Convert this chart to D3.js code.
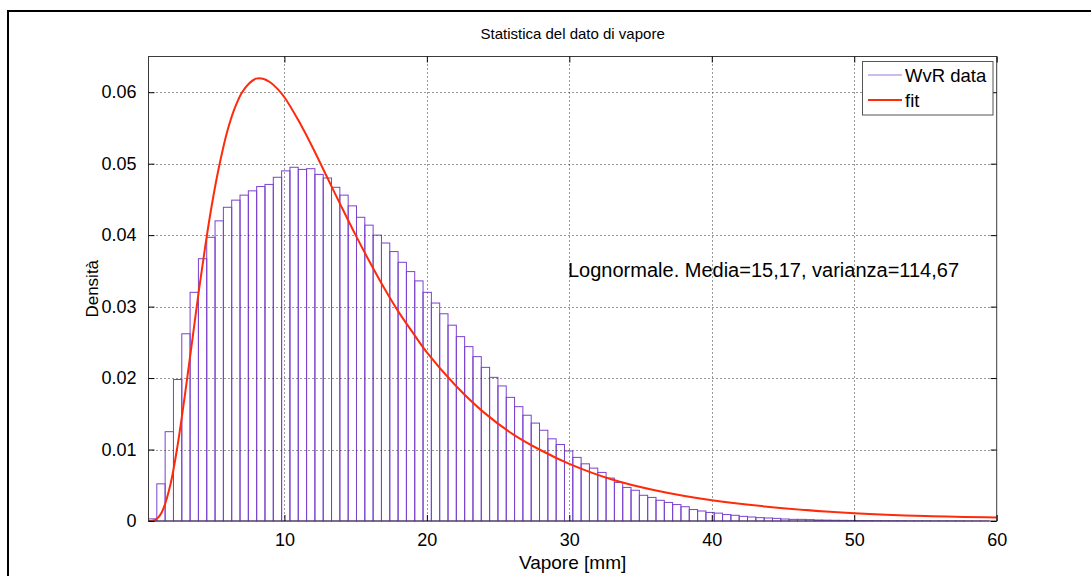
<!DOCTYPE html>
<html>
<head>
<meta charset="utf-8">
<script src="https://cdn.jsdelivr.net/npm/d3@7/dist/d3.min.js"></script>
<style>
  html, body { margin: 0; padding: 0; background: #fff; }
  svg text { font-family: "Liberation Sans", Arial, Helvetica, sans-serif; fill: #000; }
</style>
</head>
<body>
<svg id="chart" width="1091" height="576"></svg>
<script>
// Histogram of water-vapour data (density per bin), bins of equal width
const binStart = 0.46;
const binWidth = 0.584;
const densities = [
  0.0003, 0.0052, 0.0125, 0.0198, 0.0262, 0.0320, 0.0367, 0.0397, 0.0420, 0.0439,
  0.0449, 0.0456, 0.0462, 0.0468, 0.0471, 0.0481, 0.0490, 0.0495, 0.0492, 0.0493,
  0.0485, 0.0480, 0.0467, 0.0456, 0.0441, 0.0425, 0.0414, 0.0400, 0.0389, 0.0377,
  0.0362, 0.0349, 0.0336, 0.0320, 0.0305, 0.0290, 0.0274, 0.0258, 0.0244, 0.0230,
  0.0215, 0.0201, 0.0189, 0.0173, 0.0160, 0.0148, 0.0137, 0.0127, 0.0115, 0.0107,
  0.0098, 0.0089, 0.0080, 0.0074, 0.0068, 0.0060, 0.0054, 0.0047, 0.0043, 0.0036,
  0.0033, 0.0029, 0.0026, 0.0023, 0.0020, 0.0016, 0.0014, 0.0012, 0.0011, 0.0009,
  0.0008, 0.00065, 0.00056, 0.00047, 0.00042, 0.00037, 0.00028, 0.00023, 0.00023, 0.00019,
  0.00014, 0.00012, 0.00010, 0.00009, 0.00008, 0.00007, 0.00006, 0.00005, 0.00005, 0.00004,
  0.00004, 0.00003, 0.00003, 0.00003, 0.00002, 0.00002, 0.00002, 0.00002, 0.00001, 0.00001,
  0.00001
];

// Fitted lognormal curve, sampled points (x in mm, density)
const fitX = [0.46, 0.75, 1, 1.25, 1.5, 2, 2.5, 3, 3.5, 4, 4.5, 5, 5.5, 6, 6.5, 7, 7.5, 8, 8.5, 9, 9.5,
  10, 11, 12, 13, 14, 15, 16, 17, 18, 19, 20, 22, 24, 26, 28, 30, 33, 36, 40, 45, 50, 55, 60];
const fitY = [0.0000, 0.00005, 0.00025, 0.00075, 0.0017, 0.0051, 0.01055, 0.0174, 0.0248, 0.0323, 0.0392, 0.0453, 0.0504, 0.0546, 0.0577, 0.0599, 0.0612, 0.0619, 0.0619, 0.0614, 0.0605,
  0.0593, 0.0560, 0.0522, 0.0481, 0.0440, 0.0400, 0.0362, 0.0326, 0.0293, 0.0264, 0.0236, 0.0190, 0.0152, 0.0122, 0.0099, 0.0080, 0.0058, 0.0043, 0.0029, 0.0018, 0.0011, 0.0007, 0.0005];

const xTicks = [10, 20, 30, 40, 50, 60];
const yTicks = [0, 0.01, 0.02, 0.03, 0.04, 0.05, 0.06];
const yTickLabels = ["0", "0.01", "0.02", "0.03", "0.04", "0.05", "0.06"];

const titleText = "Statistica del dato di vapore";
const xLabelText = "Vapore [mm]";
const yLabelText = "Densità";
const noteText = "Lognormale. Media=15,17, varianza=114,67";
const legendNames = ["WvR data", "fit"];

const barColor = "#7a42cf";
const fitColor = "#ff2a0a";

const svg = d3.select("#chart");

// outer figure frame
svg.append("rect")
  .attr("x", 8).attr("y", 11).attr("width", 1100).attr("height", 600)
  .attr("fill", "none").attr("stroke", "#000").attr("stroke-width", 2);

const plot = { left: 148.5, right: 996.7, top: 56.5, bottom: 521 };

const x = d3.scaleLinear().domain([0.46, 60]).range([plot.left, plot.right]);
const y = d3.scaleLinear().domain([0, 0.065]).range([plot.bottom, plot.top]);

// plot background
svg.append("rect")
  .attr("x", plot.left).attr("y", plot.top)
  .attr("width", plot.right - plot.left).attr("height", plot.bottom - plot.top)
  .attr("fill", "#fff");

// histogram bars (outlined)
const bins = densities.map((d, i) => ({
  x0: binStart + i * binWidth,
  x1: binStart + (i + 1) * binWidth,
  v: d
}));
svg.append("g")
  .selectAll("rect")
  .data(bins)
  .join("rect")
  .attr("x", d => x(d.x0))
  .attr("y", d => y(d.v))
  .attr("width", d => x(d.x1) - x(d.x0))
  .attr("height", d => y(0) - y(d.v))
  .attr("fill", "none")
  .attr("stroke", barColor)
  .attr("stroke-width", 1);

// dotted grid
const grid = svg.append("g").attr("stroke", "#333").attr("stroke-width", 1)
  .attr("stroke-dasharray", "1,3");
grid.selectAll("line.gx")
  .data(xTicks.slice(0, -1))
  .join("line")
  .attr("class", "gx")
  .attr("x1", d => Math.round(x(d)) + 0.5).attr("x2", d => Math.round(x(d)) + 0.5)
  .attr("y1", plot.top).attr("y2", plot.bottom);
grid.selectAll("line.gy")
  .data(yTicks.slice(1))
  .join("line")
  .attr("class", "gy")
  .attr("x1", plot.left).attr("x2", plot.right)
  .attr("y1", d => Math.round(y(d)) + 0.5).attr("y2", d => Math.round(y(d)) + 0.5);

// fitted curve
const line = d3.line()
  .x((d, i) => x(fitX[i]))
  .y(d => y(d))
  .curve(d3.curveCatmullRom.alpha(0.5));
svg.append("path")
  .datum(fitY)
  .attr("d", line)
  .attr("fill", "none")
  .attr("stroke", fitColor)
  .attr("stroke-width", 2)
  .attr("stroke-linejoin", "round");

// axes box
svg.append("rect")
  .attr("x", plot.left).attr("y", plot.top)
  .attr("width", plot.right - plot.left).attr("height", plot.bottom - plot.top)
  .attr("fill", "none").attr("stroke", "#3a3a3a").attr("stroke-width", 1);

// bottom axis with ticks and labels
const xAxis = d3.axisBottom(x).tickValues(xTicks).tickSizeInner(-6).tickSizeOuter(0).tickPadding(12)
  .tickFormat(d3.format("d"));
const gx = svg.append("g").attr("transform", `translate(0,${plot.bottom})`).call(xAxis);
gx.select(".domain").remove();
gx.selectAll("line").attr("stroke", "#000");
gx.selectAll("text").attr("font-size", 18).attr("fill", "#000");

// top ticks
const gxt = svg.append("g").attr("transform", `translate(0,${plot.top})`)
  .call(d3.axisTop(x).tickValues(xTicks).tickSizeInner(-6).tickSizeOuter(0).tickFormat(""));
gxt.select(".domain").remove();
gxt.selectAll("line").attr("stroke", "#000");

// left axis
const yAxis = d3.axisLeft(y).tickValues(yTicks).tickSizeInner(-6).tickSizeOuter(0).tickPadding(12)
  .tickFormat((d, i) => yTickLabels[i]);
const gy = svg.append("g").attr("transform", `translate(${plot.left},0)`).call(yAxis);
gy.select(".domain").remove();
gy.selectAll("line").attr("stroke", "#000");
gy.selectAll("text").attr("font-size", 18).attr("fill", "#000");

// right ticks
const gyr = svg.append("g").attr("transform", `translate(${plot.right},0)`)
  .call(d3.axisRight(y).tickValues(yTicks).tickSizeInner(-6).tickSizeOuter(0).tickFormat(""));
gyr.select(".domain").remove();
gyr.selectAll("line").attr("stroke", "#000");

// title and axis labels
svg.append("text")
  .attr("x", (plot.left + plot.right) / 2).attr("y", 39)
  .attr("text-anchor", "middle").attr("font-size", 15)
  .text(titleText);
svg.append("text")
  .attr("x", (plot.left + plot.right) / 2).attr("y", 569)
  .attr("text-anchor", "middle").attr("font-size", 19)
  .text(xLabelText);
svg.append("text")
  .attr("transform", `translate(98,${(plot.top + plot.bottom) / 2}) rotate(-90)`)
  .attr("text-anchor", "middle").attr("font-size", 17)
  .text(yLabelText);

// annotation with fit parameters
svg.append("text")
  .attr("x", 568).attr("y", 277)
  .attr("font-size", 20)
  .text(noteText);

// legend
const lg = svg.append("g");
lg.append("rect")
  .attr("x", 862.5).attr("y", 61.5).attr("width", 130.5).attr("height", 53.5)
  .attr("fill", "#fff").attr("stroke", "#555").attr("stroke-width", 1);
const legendColors = ["#9a78e0", fitColor];
const legendWidths = [1.2, 2];
legendNames.forEach((name, i) => {
  const ly = 75 + i * 25;
  lg.append("line")
    .attr("x1", 868).attr("x2", 902).attr("y1", ly).attr("y2", ly)
    .attr("stroke", legendColors[i]).attr("stroke-width", legendWidths[i]);
  lg.append("text")
    .attr("x", 905).attr("y", ly + 6.5)
    .attr("font-size", 18.5)
    .text(name);
});
</script>
</body>
</html>
